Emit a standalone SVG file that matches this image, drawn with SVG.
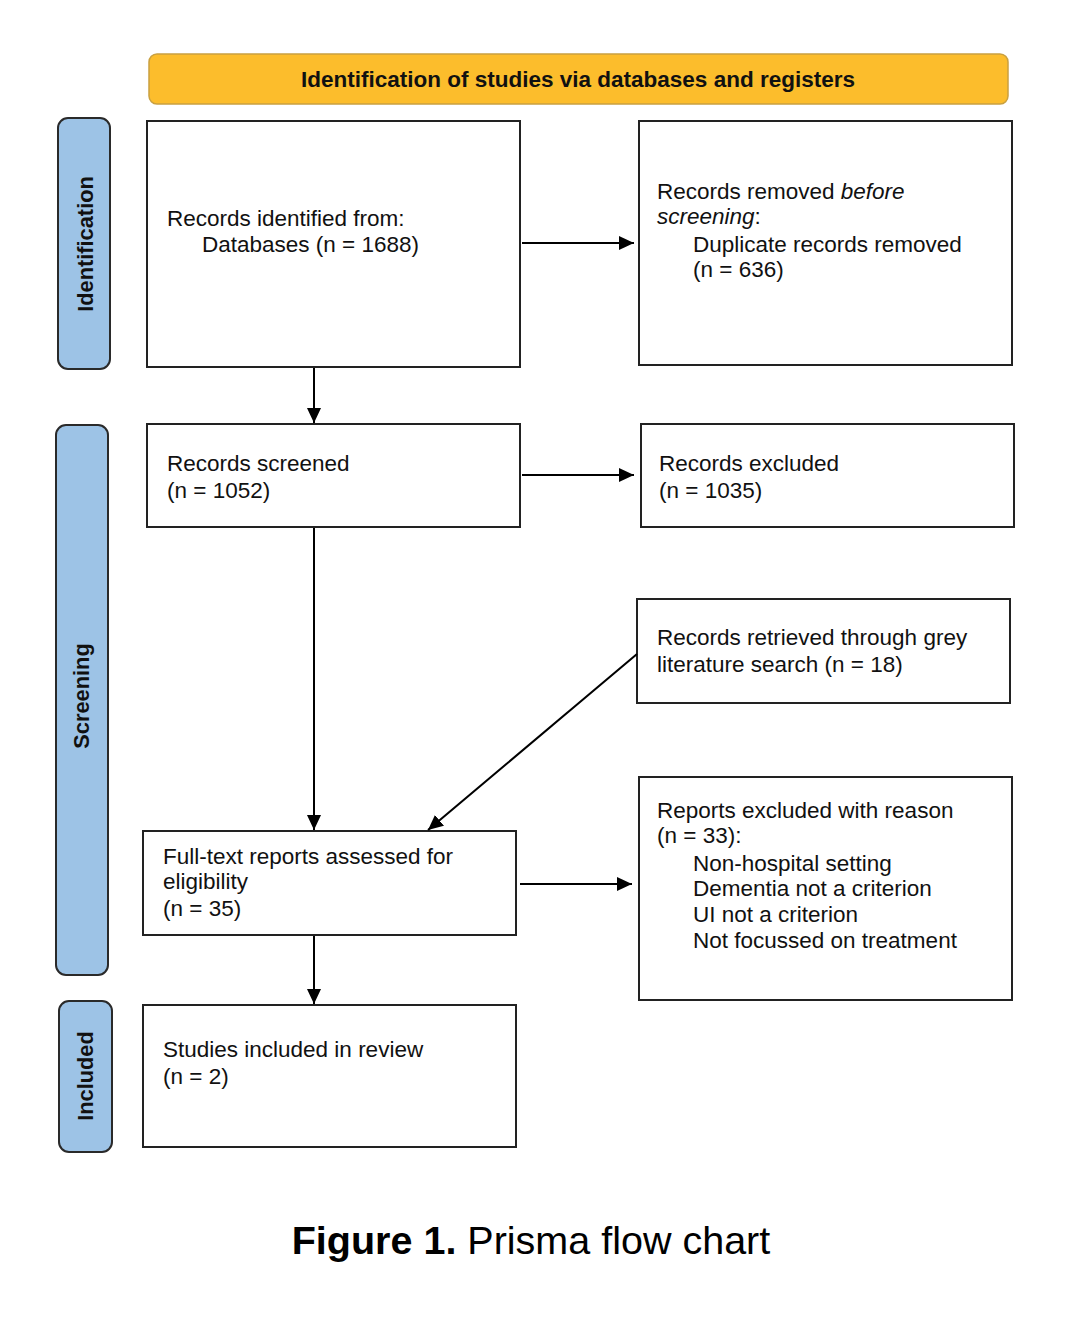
<svg xmlns="http://www.w3.org/2000/svg" width="1080" height="1320" viewBox="0 0 1080 1320">
<defs>
<marker id="ah" viewBox="0 0 15 14" refX="15" refY="7" markerWidth="15" markerHeight="14" markerUnits="userSpaceOnUse" orient="auto">
<path d="M0,0 L15,7 L0,14 Z" fill="#000"/>
</marker>
<style>
.box{fill:#fff;stroke:#222;stroke-width:2}
.side{fill:#9DC3E6;stroke:#2a2a2a;stroke-width:2}
.t{font-family:"Liberation Sans",Arial,sans-serif;font-size:22.5px;fill:#111}
.b{font-family:"Liberation Sans",Arial,sans-serif;font-weight:bold;fill:#111}
.c{stroke:#000;stroke-width:2;fill:none}
</style>
</defs>
<rect width="1080" height="1320" fill="#fff"/>
<g id="header">
<rect x="149" y="54" width="859" height="50" rx="8" fill="#FCBD2C" stroke="#C9A040" stroke-width="1.5"/>
<text class="b" font-size="22.5" x="578" y="87" text-anchor="middle">Identification of studies via databases and registers</text>
</g>
<g id="side-identification">
<rect class="side" x="58" y="118" width="52" height="251" rx="10"/>
<text class="b" font-size="21.8" transform="translate(93,244) rotate(-90)" text-anchor="middle">Identification</text>
</g>
<g id="side-screening">
<rect class="side" x="56" y="425" width="52" height="550" rx="10"/>
<text class="b" font-size="21.8" transform="translate(89,696) rotate(-90)" text-anchor="middle">Screening</text>
</g>
<g id="side-included">
<rect class="side" x="59" y="1001" width="53" height="151" rx="10"/>
<text class="b" font-size="21.8" transform="translate(93,1076) rotate(-90)" text-anchor="middle">Included</text>
</g>
<g id="n-identified">
<rect class="box" x="147" y="121" width="373" height="246"/>
<text class="t" x="167" y="226">Records identified from:</text>
<text class="t" x="202" y="252">Databases (n = 1688)</text>
</g>
<g id="n-removed">
<rect class="box" x="639" y="121" width="373" height="244"/>
<text class="t" x="657" y="199">Records removed <tspan font-style="italic">before</tspan></text>
<text class="t" x="657" y="224"><tspan font-style="italic">screening</tspan>:</text>
<text class="t" x="693" y="252">Duplicate records removed</text>
<text class="t" x="693" y="277">(n = 636)</text>
</g>
<g id="n-screened">
<rect class="box" x="147" y="424" width="373" height="103"/>
<text class="t" x="167" y="471">Records screened</text>
<text class="t" x="167" y="498">(n = 1052)</text>
</g>
<g id="n-excluded">
<rect class="box" x="641" y="424" width="373" height="103"/>
<text class="t" x="659" y="471">Records excluded</text>
<text class="t" x="659" y="498">(n = 1035)</text>
</g>
<g id="n-grey">
<rect class="box" x="637" y="599" width="373" height="104"/>
<text class="t" x="657" y="645">Records retrieved through grey</text>
<text class="t" x="657" y="672">literature search (n = 18)</text>
</g>
<g id="n-fulltext">
<rect class="box" x="143" y="831" width="373" height="104"/>
<text class="t" x="163" y="864">Full-text reports assessed for</text>
<text class="t" x="163" y="889">eligibility</text>
<text class="t" x="163" y="916">(n = 35)</text>
</g>
<g id="n-reports-excluded">
<rect class="box" x="639" y="777" width="373" height="223"/>
<text class="t" x="657" y="818">Reports excluded with reason</text>
<text class="t" x="657" y="843">(n = 33):</text>
<text class="t" x="693" y="871">Non-hospital setting</text>
<text class="t" x="693" y="896">Dementia not a criterion</text>
<text class="t" x="693" y="922">UI not a criterion</text>
<text class="t" x="693" y="948">Not focussed on treatment</text>
</g>
<g id="n-included">
<rect class="box" x="143" y="1005" width="373" height="142"/>
<text class="t" x="163" y="1057">Studies included in review</text>
<text class="t" x="163" y="1084">(n = 2)</text>
</g>
<g id="connectors">
<line class="c" x1="522" y1="243" x2="634" y2="243" marker-end="url(#ah)"/>
<line class="c" x1="314" y1="368" x2="314" y2="423" marker-end="url(#ah)"/>
<line class="c" x1="522" y1="475" x2="634" y2="475" marker-end="url(#ah)"/>
<line class="c" x1="314" y1="528" x2="314" y2="830" marker-end="url(#ah)"/>
<line class="c" x1="637" y1="654" x2="428" y2="830" marker-end="url(#ah)"/>
<line class="c" x1="520" y1="884" x2="632" y2="884" marker-end="url(#ah)"/>
<line class="c" x1="314" y1="936" x2="314" y2="1004" marker-end="url(#ah)"/>
</g>
<g id="caption">
<text x="531" y="1254" text-anchor="middle" font-family="'Liberation Sans',Arial,sans-serif" font-size="39.5" fill="#000"><tspan font-weight="bold">Figure 1.</tspan> Prisma flow chart</text>
</g>
</svg>
